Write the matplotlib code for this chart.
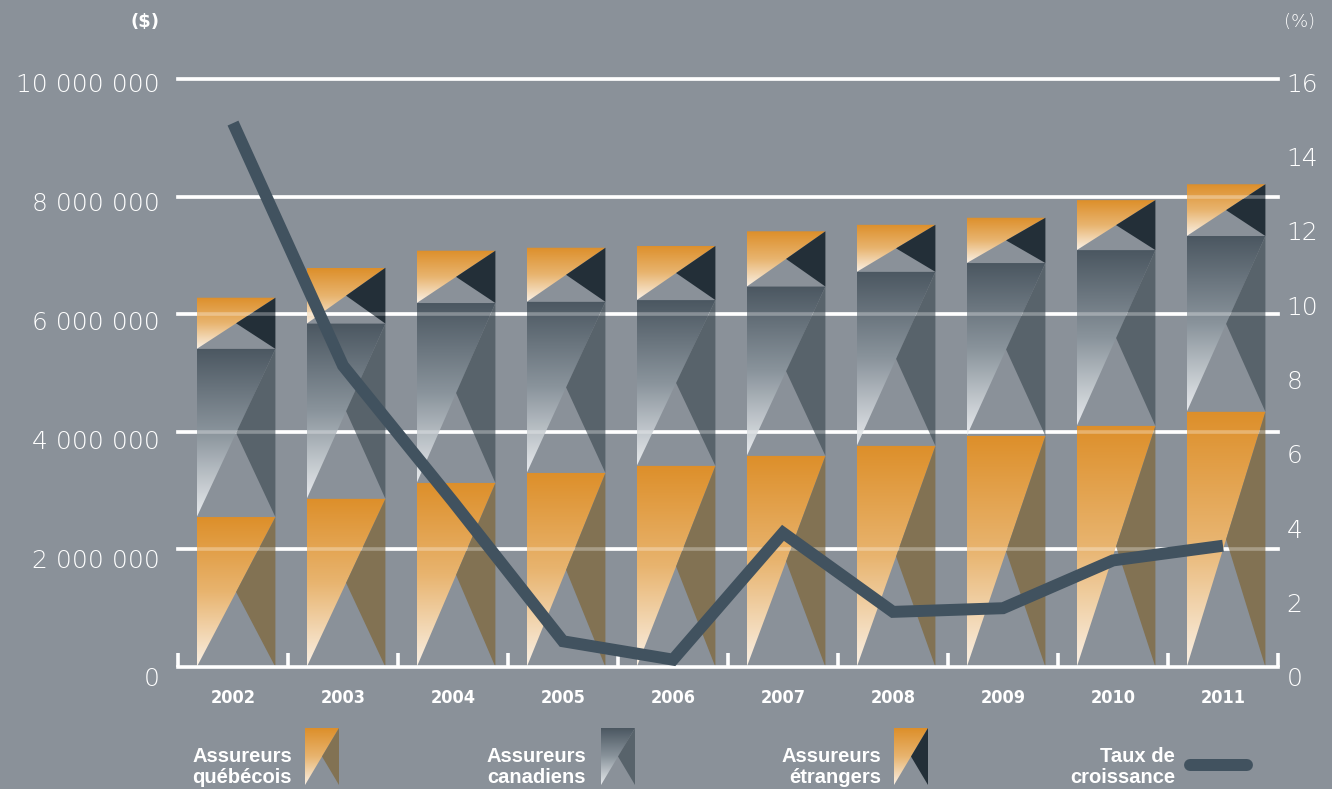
import numpy as np
import matplotlib
matplotlib.use("Agg")
import matplotlib.pyplot as plt
from matplotlib.patches import Polygon
from matplotlib.colors import LinearSegmentedColormap
from matplotlib.lines import Line2D
from matplotlib.transforms import ScaledTranslation

# données (en $ et en %)
annees = ["2002", "2003", "2004", "2005", "2006", "2007", "2008", "2009", "2010", "2011"]
quebecois = [2550000, 2860000, 3130000, 3300000, 3420000, 3590000, 3760000, 3930000, 4100000, 4340000]
canadiens = [2860000, 2980000, 3060000, 2910000, 2820000, 2880000, 2960000, 2940000, 2990000, 2990000]
etrangers = [870000, 950000, 890000, 920000, 920000, 940000, 800000, 770000, 850000, 880000]
croissance = [14.8, 8.2, 4.5, 0.7, 0.2, 3.65, 1.5, 1.6, 2.9, 3.3]

y_ticks = [0, 2000000, 4000000, 6000000, 8000000, 10000000]
pct_ticks = [0, 2, 4, 6, 8, 10, 12, 14, 16]

BG = "#8a9199"
ORANGE = LinearSegmentedColormap.from_list("orange", ["#faf1e6", "#e8b46f", "#dd8f2a"])
SLATE = LinearSegmentedColormap.from_list("slate", ["#e8ebee", "#8a949c", "#4b5761"])
BROWN = "#827253"
DARK = "#232f38"
SLATE_SIDE = "#58636b"
LINE = "#41525f"

GRAD = np.linspace(0, 1, 256).reshape(-1, 1)
W, H = 1332, 789


def draw_segment(ax, x0, x1, y0, y1, cmap, side_color, z=2):
    xm, ym = (x0 + x1) / 2, (y0 + y1) / 2
    tri = Polygon([(x0, y1), (x1, y1), (x0, y0)], closed=True,
                  facecolor="none", edgecolor="none")
    ax.add_patch(tri)
    im = ax.imshow(GRAD, extent=(x0, x1, y0, y1), origin="lower", aspect="auto",
                   cmap=cmap, interpolation="bilinear", zorder=z)
    im.set_clip_path(tri)
    ax.add_patch(Polygon([(x1, y1), (x1, y0), (xm, ym)], closed=True,
                         facecolor=side_color, edgecolor="none", zorder=z))


def shift_labels(labels):
    # les étiquettes du bas sont un peu plus décalées vers le bas
    for lab, v in zip(labels, np.linspace(0, 1, len(labels))):
        dy = -(3 + 7 * (1 - v)) / 100
        lab.set_transform(lab.get_transform() + ScaledTranslation(0, dy, fig.dpi_scale_trans))


fig = plt.figure(figsize=(W / 100, H / 100), dpi=100, facecolor=BG)
ax = fig.add_axes([178 / W, 1 - 667 / H, 1100 / W, 588 / H])
ax.set_facecolor(BG)

x = np.arange(len(annees))
bw = 0.715
dx = 0.028
for i in x:
    b1 = quebecois[i]
    b2 = b1 + canadiens[i]
    b3 = b2 + etrangers[i]
    l, r = i + dx - bw / 2, i + dx + bw / 2
    draw_segment(ax, l, r, 0, b1, ORANGE, BROWN)
    draw_segment(ax, l, r, b1, b2, SLATE, SLATE_SIDE)
    draw_segment(ax, l, r, b2, b3, ORANGE, DARK)

# grille : pleine derrière, voilée par-dessus les barres
for v in y_ticks[1:]:
    ax.axhline(v, color="white", lw=2.6, zorder=0, clip_on=False)
    ax.axhline(v, color="white", lw=2.6, alpha=0.3, zorder=3, clip_on=False)

ax.set_xlim(-0.5, len(annees) - 0.5)
ax.set_ylim(0, 10000000)

for s in ("top", "right", "left"):
    ax.spines[s].set_visible(False)
ax.spines["bottom"].set_color("white")
ax.spines["bottom"].set_linewidth(2.6)

ax.set_xticks(x)
ax.set_xticklabels(annees, fontsize=13, fontweight="bold", fontstretch="condensed",
                   color="white")
ax.set_xticks(np.arange(-0.5, len(annees)), minor=True)
ax.tick_params(axis="x", which="major", length=0, pad=16)
ax.tick_params(axis="x", which="minor", direction="in", length=10, width=2.6, color="white")

ax.set_yticks(y_ticks)
ax.set_yticklabels([f"{v:,}".replace(",", " ") for v in y_ticks],
                   fontsize=18, fontweight="light", color="white")
ax.tick_params(axis="y", length=0, pad=13)
shift_labels(ax.get_yticklabels())

ax2 = ax.twinx()
ax2.set_ylim(0, 16)
ax2.set_yticks(pct_ticks)
ax2.set_yticklabels([str(v) for v in pct_ticks], fontsize=18, fontweight="light", color="white")
ax2.tick_params(axis="y", length=0, pad=6)
shift_labels(ax2.get_yticklabels())
for s in ax2.spines.values():
    s.set_visible(False)
ax2.plot(x, croissance, color=LINE, lw=8.6, solid_capstyle="butt",
         solid_joinstyle="miter", zorder=5)

fig.text(145 / W, 1 - 22 / H, "($)", fontsize=13, fontweight="bold", color="white",
         ha="center", va="center")
fig.text(1300 / W, 1 - 22 / H, "(%)", fontsize=13, fontweight="light", color="white",
         ha="center", va="center")

# légende
legend_items = [
    ("Assureurs\nquébécois", 292, 305, ORANGE, BROWN),
    ("Assureurs\ncanadiens", 586, 601, SLATE, SLATE_SIDE),
    ("Assureurs\nétrangers", 881, 894, ORANGE, DARK),
]
for label, tx, ix, cmap, side in legend_items:
    fig.text(tx / W, 1 - 767 / H, label, fontsize=14.5, fontweight="bold",
             family="Liberation Sans", color="white", ha="right", va="center",
             linespacing=1.12)
    lax = fig.add_axes([ix / W, 1 - 785 / H, 34 / W, 57 / H])
    lax.axis("off")
    draw_segment(lax, 0, 1, 0, 1, cmap, side)
    lax.set_xlim(0, 1)
    lax.set_ylim(0, 1)

fig.text(1175 / W, 1 - 767 / H, "Taux de\ncroissance", fontsize=14.5, fontweight="bold",
         family="Liberation Sans", color="white", ha="right", va="center",
         linespacing=1.12)
fig.add_artist(Line2D([1190 / W, 1247 / W], [1 - 765 / H, 1 - 765 / H], color=LINE,
                      lw=8.6, solid_capstyle="round", transform=fig.transFigure))

fig.savefig("out.png", dpi=100, facecolor=BG)
